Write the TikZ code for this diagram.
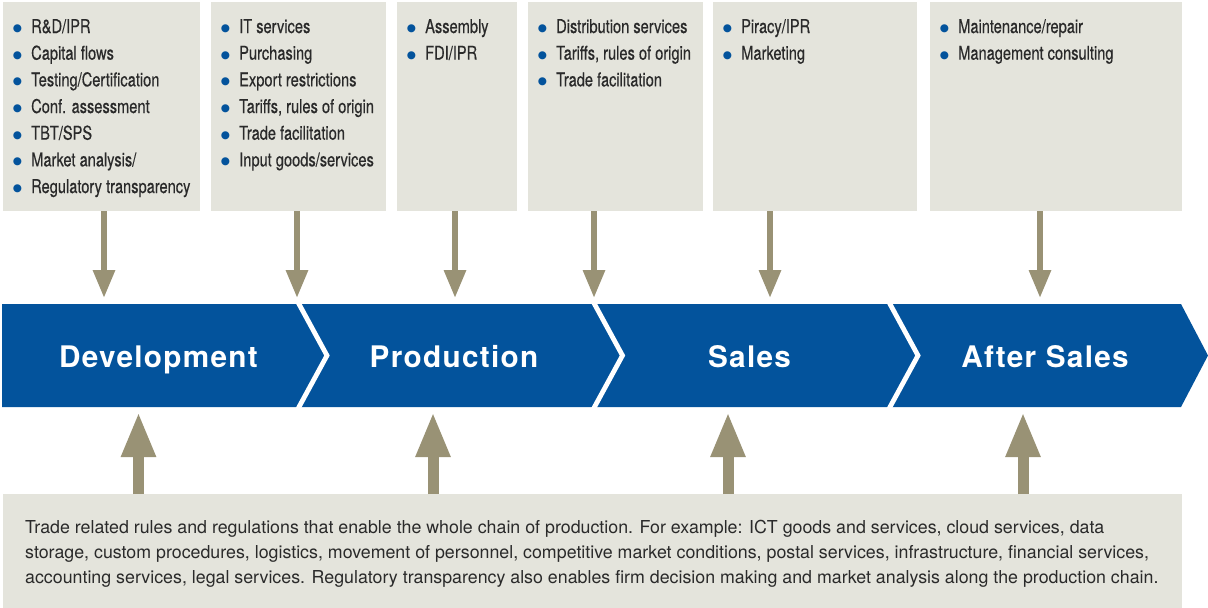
\documentclass[tikz,border=0pt]{standalone}
\usepackage{fontspec}
\usetikzlibrary{positioning}
\usetikzlibrary{arrows.meta}

\newfontfamily\heros{TeX Gyre Heros}
\newfontfamily\heroscond[FakeStretch=0.77,FakeBold=0.4]{TeX Gyre Heros}
\newfontfamily\herosstage[LetterSpace=4.4]{TeX Gyre Heros}
\newfontfamily\dotfont{DejaVu Sans}

\definecolor{chainblue}{HTML}{03539C}
\definecolor{boxgray}{HTML}{E4E4DC}
\definecolor{arrowtan}{HTML}{999275}
\definecolor{inktext}{HTML}{2A2A2A}

% blue dot in front of each entry
\newcommand{\blt}{\makebox[18.3pt][l]{\raisebox{1.5pt}{\textcolor{chainblue}{\dotfont\fontsize{10.5}{10.5}\selectfont ●}}}}

\begin{document}
\begin{tikzpicture}[x=1pt,y=-1pt,
  infobox/.style={fill=boxgray, minimum height=209pt, inner sep=0pt},
  itemlist/.style={anchor=base west, inner sep=0pt, text=inktext,
    font=\heroscond\fontsize{19}{26.67}\selectfont},
  stage/.style={anchor=base, text=white,
    font=\herosstage\bfseries\fontsize{29.7}{30}\selectfont},
  dnarrow/.style={draw=arrowtan, line width=6pt,
    -{Triangle[length=28pt,width=21pt]}, shorten >=6pt},
  uparrow/.style={draw=arrowtan, line width=11pt,
    -{Triangle[length=45pt,width=32pt]}, shorten >=5pt},
  gapline/.style={white, line width=4.8pt, miter limit=10}]
\useasboundingbox (0,0) rectangle (1208,608);

% boxes along the top
\node[infobox, anchor=north west, minimum width=197pt] (b1) at (3,2) {};
\node[infobox, minimum width=175pt, right=10.6pt of b1] (b2) {};
\node[infobox, minimum width=120pt, right=10.6pt of b2] (b3) {};
\node[infobox, minimum width=175pt, right=10.6pt of b3] (b4) {};
\node[infobox, minimum width=204pt, right=9.6pt of b4] (b5) {};
\node[infobox, minimum width=252pt, right=12.6pt of b5] (b6) {};

\node[itemlist] (l1) at ([xshift=9.7pt,yshift=-31pt]b1.north west) {%
  \begin{tabular}[t]{@{}l@{}}
  \blt R\&D/IPR\\
  \blt Capital flows\\
  \blt Testing/Certification\\
  \blt Conf. assessment\\
  \blt TBT/SPS\\
  \blt Market analysis/\\
  \blt Regulatory transparency
  \end{tabular}};
\node[itemlist] (l2) at ([xshift=9.7pt,yshift=-31pt]b2.north west) {%
  \begin{tabular}[t]{@{}l@{}}
  \blt IT services\\
  \blt Purchasing\\
  \blt Export restrictions\\
  \blt Tariffs, rules of origin\\
  \blt Trade facilitation\\
  \blt Input goods/services
  \end{tabular}};
\node[itemlist] (l3) at ([xshift=9.7pt,yshift=-31pt]b3.north west) {%
  \begin{tabular}[t]{@{}l@{}}
  \blt Assembly\\
  \blt FDI/IPR
  \end{tabular}};
\node[itemlist] (l4) at ([xshift=9.7pt,yshift=-31pt]b4.north west) {%
  \begin{tabular}[t]{@{}l@{}}
  \blt Distribution services\\
  \blt Tariffs, rules of origin\\
  \blt Trade facilitation
  \end{tabular}};
\node[itemlist] (l5) at ([xshift=9.7pt,yshift=-31pt]b5.north west) {%
  \begin{tabular}[t]{@{}l@{}}
  \blt Piracy/IPR\\
  \blt Marketing
  \end{tabular}};
\node[itemlist] (l6) at ([xshift=9.7pt,yshift=-31pt]b6.north west) {%
  \begin{tabular}[t]{@{}l@{}}
  \blt Maintenance/repair\\
  \blt Management consulting
  \end{tabular}};

% the value chain band
\fill[chainblue] (2,304) -- (1181,304) -- (1208,355.5) -- (1181,407) -- (2,407) -- cycle;
\foreach \x in {299,594.5,890}
  \draw[gapline] (\x-2.2,300) -- (\x+28,355.5) -- (\x-2.2,411);

\node[stage] (dev) at (158.5,367.3) {Development};
\node[stage] (prod) at (454,367.3) {Production};
\node[stage] (sales) at (749.5,367.3) {Sales};
\node[stage] (after) at (1045,367.3) {After Sales};

% box along the bottom
\node[fill=boxgray, anchor=north west, minimum width=1179pt, minimum height=114pt,
  inner sep=0pt] (foot) at (3,494) {};
\node[anchor=base west, inner sep=0pt, text=inktext,
  font=\heros\fontsize{17.8}{25}\selectfont] (foottext)
  at ([xshift=22pt,yshift=-39pt]foot.north west) {%
  \begin{tabular}[t]{@{}l@{}}
  Trade related rules and regulations that enable the whole chain of production. For example: ICT goods and services, cloud services, data\\
  storage, custom procedures, logistics, movement of personnel, competitive market conditions, postal services, infrastructure, financial services,\\
  accounting services, legal services. Regulatory transparency also enables firm decision making and market analysis along the production chain.
  \end{tabular}};

% arrows into the band
\foreach \x [count=\i] in {104,297,455,594,770,1040}{
  \coordinate (dn\i) at (\x,304);
  \draw[dnarrow] (b\i.south -| dn\i) -- (dn\i);
}
\foreach \x [count=\i] in {138.5,433,728,1023}{
  \coordinate (up\i) at (\x,407);
  \draw[uparrow] (foot.north -| up\i) -- (up\i);
}
\end{tikzpicture}
\end{document}
